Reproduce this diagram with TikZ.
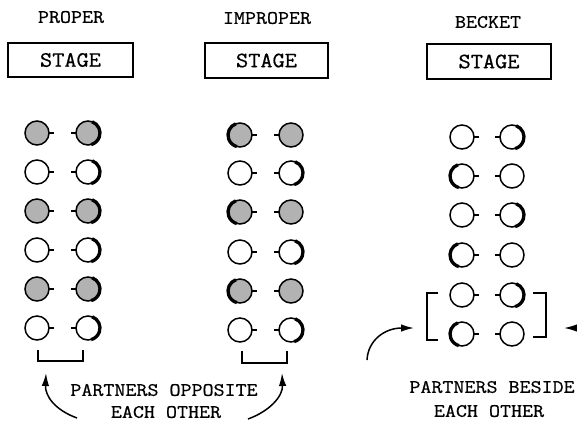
\documentclass[tikz,border=0pt]{standalone}
\usepackage{fontspec}
\newfontfamily\twfont{Latin Modern Mono}[FakeBold=0.7]
\usetikzlibrary{arrows.meta}
\tikzset{
  dancer/.style={circle,draw,line width=1.5bp,minimum size=24bp,inner sep=0pt,outer sep=0pt},
  active/.style={fill=gray!60},
  nose/.style={line width=1.7bp},
  heavy/.style={line width=3.3bp},
  stagebox/.style={draw,line width=1.4bp,inner sep=0pt,font=\twfont\fontsize{22}{24}\selectfont},
  lbl/.style={font=\twfont\fontsize{19}{22}\selectfont,inner sep=0pt},
  bracket/.style={line width=1.5bp},
  arr/.style={line width=1.5bp,-{Latex[length=13bp,width=7.5bp]}},
}
\newcommand\wide[1]{\scalebox{1.13}[1]{#1}}
\begin{document}
\begin{tikzpicture}[x=1bp,y=-1bp]
\useasboundingbox (0,0) rectangle (577,422);
% headers
\node[lbl] (hp) at (71,17) {\wide{PROPER}};
\node[lbl] (hi) at (267,18) {\wide{IMPROPER}};
\node[lbl] (hb) at (488,22) {\wide{BECKET}};
% stage boxes
\node[stagebox,minimum width=125bp,minimum height=34bp] (sp) at (70.5,60) {\scalebox{1.08}[1]{STAGE}};
\node[stagebox,minimum width=123bp,minimum height=35bp] (si) at (266.5,60.5) {\scalebox{1.08}[1]{STAGE}};
\node[stagebox,minimum width=124bp,minimum height=35bp] (sb) at (489,61.5) {\scalebox{1.08}[1]{STAGE}};
% proper
\foreach \i/\y in {1/133,2/172,3/211,4/250,5/289,6/328}{
  \ifodd\i \def\f{active}\else\def\f{}\fi
  \node[dancer,\f] (pL\i) at (37,\y) {};
  \node[dancer,\f] (pR\i) at (88,\y) {};
  \draw[nose] (pL\i.east) -- ++(5,0);
  \draw[nose] (pR\i.west) -- ++(-5,0);
  \draw[heavy] (pR\i.70) arc[start angle=70,end angle=-75,radius=12bp];
}
% improper
\foreach \i/\y in {1/135,2/173,3/212,4/252,5/291,6/330}{
  \ifodd\i \def\f{active}\else\def\f{}\fi
  \node[dancer,\f] (iL\i) at (240,\y) {};
  \node[dancer,\f] (iR\i) at (291,\y) {};
  \draw[nose] (iL\i.east) -- ++(5,0);
  \draw[nose] (iR\i.west) -- ++(-5,0);
  \ifodd\i
    \draw[heavy] (iL\i.110) arc[start angle=110,end angle=255,radius=12bp];
  \else
    \draw[heavy] (iR\i.70) arc[start angle=70,end angle=-75,radius=12bp];
  \fi
}
% becket
\foreach \i/\y in {1/137,2/176,3/215,4/255,5/295,6/334}{
  \node[dancer] (bL\i) at (462,\y) {};
  \node[dancer] (bR\i) at (512,\y) {};
  \draw[nose] (bL\i.east) -- ++(5,0);
  \draw[nose] (bR\i.west) -- ++(-5,0);
  \ifodd\i
    \draw[heavy] (bR\i.70) arc[start angle=70,end angle=-75,radius=12bp];
  \else
    \draw[heavy] (bL\i.110) arc[start angle=110,end angle=255,radius=12bp];
  \fi
}
% brackets
\draw[bracket] (38,350) -- (38,361) -- (83,361) -- (83,350);
\draw[bracket] (242,351) -- (242,363) -- (287,363) -- (287,351);
\draw[bracket] (438,293) -- (427,293) -- (427,340) -- (438,340);
\draw[bracket] (533,293) -- (546,293) -- (546,337) -- (533,337);
% captions
\node[lbl] (t1) at (164,390) {\wide{PARTNERS OPPOSITE}};
\node[lbl] (t2) at (166,412) {\wide{EACH OTHER}};
\node[lbl] (t3) at (492,387) {\wide{PARTNERS BESIDE}};
\node[lbl] (t4) at (489,411) {\wide{EACH OTHER}};
% arrows
\coordinate (a1s) at (77,418);
\coordinate (a1e) at (46,373);
\coordinate (a2s) at (248,419);
\coordinate (a2e) at (282,373);
\coordinate (a3s) at (367,360);
\coordinate (a3e) at (414,328);
\coordinate (a4s) at (577,328);
\coordinate (a4e) at (564,328);
\draw[arr] (a1s) .. controls (55,410) and (45,396) .. (a1e);
\draw[arr] (a2s) .. controls (270,411) and (283,396) .. (a2e);
\draw[arr] (a3s) .. controls (368,340) and (385,328) .. (a3e);
\draw[arr] (a4s) -- (a4e);
\end{tikzpicture}
\end{document}
